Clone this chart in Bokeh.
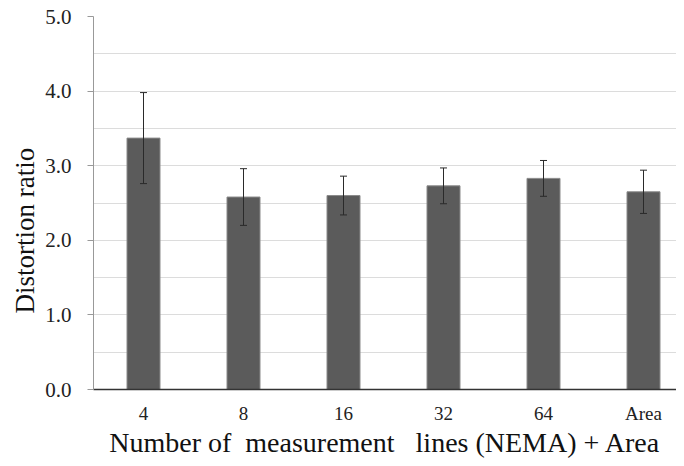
from bokeh.plotting import figure
from bokeh.models import ColumnDataSource, Whisker, Range1d, FixedTicker, PrintfTickFormatter, Title
from bokeh.embed import file_html
from bokeh.resources import INLINE

categories = ["4", "8", "16", "32", "64", "Area"]
means = [3.37, 2.58, 2.60, 2.73, 2.83, 2.65]
sds = [0.61, 0.38, 0.26, 0.24, 0.24, 0.29]
y_ticks = [0.0, 1.0, 2.0, 3.0, 4.0, 5.0]

xs = list(range(len(categories)))
src = ColumnDataSource(dict(
    x=xs, top=means,
    upper=[m + s for m, s in zip(means, sds)],
    lower=[m - s for m, s in zip(means, sds)],
))

p = figure(width=676, height=460, output_backend="svg", toolbar_location=None,
           x_range=Range1d(-0.5, 5.33), y_range=Range1d(0, 5.0),
           min_border_left=93, min_border_right=0, min_border_top=16, min_border_bottom=20)
p.outline_line_color = None
p.background_fill_color = "white"

p.vbar(x="x", top="top", width=0.33, bottom=0, source=src,
       fill_color="#5b5b5b", line_color="#8a8a8a", line_width=1)
w = Whisker(base="x", upper="upper", lower="lower", source=src,
            line_color="#2a2a2a", line_width=1, level="overlay")
w.upper_head.size = 7
w.lower_head.size = 7
w.upper_head.line_color = "#2a2a2a"
w.lower_head.line_color = "#2a2a2a"
p.add_layout(w)

p.xgrid.visible = False
p.ygrid.ticker = FixedTicker(ticks=[0.5 * i for i in range(1, 11)])
p.ygrid.grid_line_color = "#dcdcdc"
p.ygrid.grid_line_width = 1

p.yaxis.ticker = FixedTicker(ticks=y_ticks)
p.yaxis.formatter = PrintfTickFormatter(format="%.1f")
p.yaxis.minor_tick_line_color = None
p.yaxis.major_tick_in = 0
p.yaxis.major_tick_out = 6
p.yaxis.axis_line_color = "#999999"
p.yaxis.major_tick_line_color = "#999999"
p.yaxis.major_label_text_font = "Liberation Serif"
p.yaxis.major_label_text_font_size = "21px"
p.yaxis.major_label_text_color = "#222222"
p.yaxis.major_label_standoff = 16

ytitle = Title(text="Distortion ratio", align="left", offset=76,
               text_font="Liberation Serif", text_font_size="27px",
               text_font_style="normal", text_color="#111111", standoff=5)
p.add_layout(ytitle, "left")

p.xaxis.ticker = FixedTicker(ticks=xs)
p.xaxis.major_label_overrides = {i: c for i, c in zip(xs, categories)}
p.xaxis.major_tick_line_color = None
p.xaxis.minor_tick_line_color = None
p.xaxis.axis_line_color = "#333333"
p.xaxis.axis_line_width = 1.5
p.xaxis.major_label_text_font = "Liberation Serif"
p.xaxis.major_label_text_font_size = "19px"
p.xaxis.major_label_text_color = "#222222"
p.xaxis.major_label_standoff = 7
p.xaxis.axis_label = "Number of\u00a0 measurement\u00a0\u00a0 lines (NEMA) + Area"
p.xaxis.axis_label_text_font = "Liberation Serif"
p.xaxis.axis_label_text_font_size = "28px"
p.xaxis.axis_label_text_font_style = "normal"
p.xaxis.axis_label_text_color = "#111111"
p.xaxis.axis_label_standoff = 0

open("out.html", "w").write(file_html(p, INLINE))
